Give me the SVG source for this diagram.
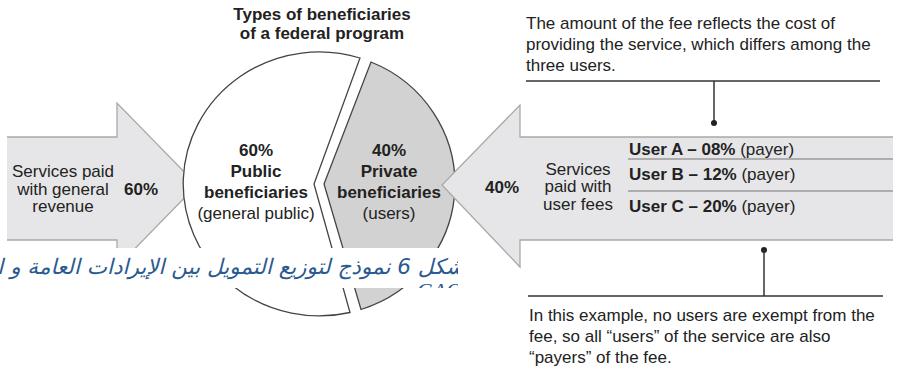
<svg xmlns="http://www.w3.org/2000/svg" width="903" height="371" viewBox="0 0 903 371">
<defs>
<style>
text{font-family:"Liberation Sans",Arial,sans-serif;font-size:17px;fill:#222}
.b{font-weight:bold}
.c{text-anchor:middle}
.af{fill:#e6e6e8;stroke:none}
.as{fill:none;stroke:#a9a9a9;stroke-width:1.3}
.pie{stroke:#444;stroke-width:1.3}
.sep{stroke:#9a9a9a;stroke-width:1.3}
.ann{stroke:#333;stroke-width:1.5;fill:none}
.ar{font-family:"DejaVu Sans",sans-serif;font-style:italic;font-size:21.5px;fill:#2a5a8f}
.gao{font-family:"Liberation Serif",serif;font-style:italic;font-size:22px;fill:#2a5a8f}
</style>
<clipPath id="capclip"><rect x="0" y="248" width="458" height="40"/></clipPath>
</defs>
<rect width="903" height="371" fill="#fff"/>

<g id="left-arrow">
<polygon class="af" points="7,137 117,137 117,103 197,185 117,267 117,240 7,240"/>
<polyline class="as" points="7,137 117,137 117,103 197,185 117,267 117,240 7,240"/>
<text class="c" x="63" y="177">Services paid</text>
<text class="c" x="63" y="195">with general</text>
<text class="c" x="63" y="212">revenue</text>
<text class="b c" x="141" y="195">60%</text>
</g>

<g id="title">
<text class="b c" x="322" y="20">Types of beneficiaries</text>
<text class="b c" x="322" y="39">of a federal program</text>
</g>

<g id="public">
<path class="pie" fill="#fff" d="M360,58 A136,132 0 1 0 350,312.5 L314,184 Z"/>
<text class="b c" x="256" y="156">60%</text>
<text class="b c" x="256" y="177">Public</text>
<text class="b c" x="256" y="198">beneficiaries</text>
<text class="c" x="256" y="219">(general public)</text>
</g>

<g id="private">
<path class="pie" fill="#d2d2d2" d="M371,62 A136,132 0 0 1 361,309.5 L324,184 Z"/>
<text class="b c" x="389" y="156">40%</text>
<text class="b c" x="389" y="177">Private</text>
<text class="b c" x="389" y="198">beneficiaries</text>
<text class="c" x="389" y="219">(users)</text>
</g>

<g id="right-arrow">
<polygon class="af" points="893,137 520,137 520,105 442,185 520,267 520,240 893,240"/>
<polyline class="as" points="893,137 520,137 520,105 442,185 520,267 520,240 893,240"/>
<line class="sep" x1="628" y1="159" x2="893" y2="159"/>
<line class="sep" x1="628" y1="191" x2="893" y2="191"/>
<text class="b c" x="502" y="193">40%</text>
<text class="c" x="578" y="175">Services</text>
<text class="c" x="578" y="192">paid with</text>
<text class="c" x="578" y="210">user fees</text>
<text x="629" y="155"><tspan class="b">User A – 08%</tspan> (payer)</text>
<text x="629" y="180"><tspan class="b">User B – 12%</tspan> (payer)</text>
<text x="629" y="212"><tspan class="b">User C – 20%</tspan> (payer)</text>
</g>

<g id="note-top">
<text x="526" y="29">The amount of the fee reflects the cost of</text>
<text x="526" y="50">providing the service, which differs among the</text>
<text x="526" y="71">three users.</text>
</g>

<g id="note-bottom">
<text x="529" y="321">In this example, no users are exempt from the</text>
<text x="529" y="342">fee, so all “users” of the service are also</text>
<text x="529" y="363">“payers” of the fee.</text>
</g>

<g id="connectors">
<line class="ann" x1="526" y1="81" x2="880" y2="81"/>
<line class="ann" x1="714" y1="81" x2="714" y2="123"/>
<circle cx="714" cy="123" r="3" fill="#222"/>
<circle cx="764" cy="250" r="3" fill="#222"/>
<line class="ann" x1="764" y1="250" x2="764" y2="296"/>
<line class="ann" x1="528" y1="296" x2="883" y2="296"/>
</g>

<g id="caption">
<rect x="0" y="248" width="458" height="40" fill="#fff"/>
<g clip-path="url(#capclip)">
<text class="ar" x="464" y="274" text-anchor="end">شكل 6 نموذج  لتوزيع التمويل بين الإيرادات العامة و الرسوم</text>
<text class="gao" x="462" y="298" text-anchor="end">GAO</text>
</g>
</g>
</svg>
